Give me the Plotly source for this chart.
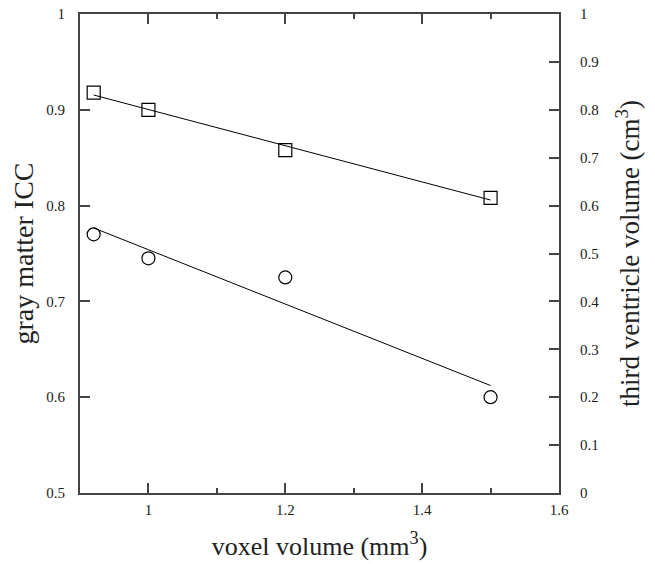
import numpy as np
import plotly.graph_objects as go

voxel_volume = [0.92, 1.0, 1.2, 1.5]
gray_matter_icc = [0.918, 0.900, 0.858, 0.808]
third_ventricle_volume = [0.54, 0.49, 0.45, 0.20]

x_ticks = [1.0, 1.2, 1.4, 1.6]
x_tick_labels = ["1", "1.2", "1.4", "1.6"]

FONT = "Liberation Serif"
AX = "#444"
TXT = "#222"

xs = np.array(voxel_volume)
p1 = np.polyfit(xs, gray_matter_icc, 1)
p2 = np.polyfit(xs, third_ventricle_volume, 1)
xl = np.array([xs.min(), xs.max()])

fig = go.Figure()
fig.add_trace(go.Scatter(x=xl, y=np.polyval(p1, xl), mode="lines",
                         line=dict(color="black", width=1), showlegend=False))
fig.add_trace(go.Scatter(x=voxel_volume, y=gray_matter_icc, mode="markers",
                         marker=dict(symbol="square-open", size=13, color="black",
                                     line=dict(width=1.2)), showlegend=False))
fig.add_trace(go.Scatter(x=xl, y=np.polyval(p2, xl), mode="lines", yaxis="y2",
                         line=dict(color="black", width=1), showlegend=False))
fig.add_trace(go.Scatter(x=voxel_volume, y=third_ventricle_volume, mode="markers", yaxis="y2",
                         marker=dict(symbol="circle-open", size=13, color="black",
                                     line=dict(width=1.2)), showlegend=False))

fig.update_layout(
    width=655, height=564,
    margin=dict(l=80, r=96, t=14, b=71),
    paper_bgcolor="white", plot_bgcolor="white",
    font=dict(family=FONT, color=TXT, size=15),
    xaxis=dict(range=[0.9, 1.6], tickvals=x_ticks, ticktext=x_tick_labels,
               ticks="inside", ticklen=10, tickwidth=1.5, tickcolor=AX,
               showline=True, linecolor=AX, linewidth=2, mirror="ticks",
               showgrid=False, zeroline=False, automargin=False,
               minor=dict(ticks="inside", ticklen=5, tickwidth=1.5, tickcolor=AX, dtick=0.1, showgrid=False),
               ticklabelstandoff=2,
               tickfont=dict(size=15, family=FONT, color=TXT),
               title=dict(text="voxel volume (mm<sup>3</sup>)", font=dict(size=26, family=FONT, color=TXT), standoff=20)),
    yaxis=dict(range=[0.5, 1.0], dtick=0.1, tick0=0.5,
               ticks="inside", ticklen=10, tickwidth=1.5, tickcolor=AX,
               showline=True, linecolor=AX, linewidth=2,
               showgrid=False, zeroline=False, automargin=False,
               ticklabelstandoff=10, ticklabeloverflow="allow",
               tickfont=dict(size=15, family=FONT, color=TXT),
               title=dict(text="gray matter ICC", font=dict(size=28, family=FONT, color=TXT), standoff=4)),
    yaxis2=dict(range=[0, 1.0], dtick=0.1, tick0=0, overlaying="y", side="right",
                ticks="inside", ticklen=10, tickwidth=1.5, tickcolor=AX,
                showline=True, linecolor=AX, linewidth=2,
                showgrid=False, zeroline=False, automargin=False,
                ticklabelstandoff=16, ticklabeloverflow="allow",
                tickfont=dict(size=15, family=FONT, color=TXT),
                title=dict(text="third ventricle volume (cm<sup>3</sup>)", font=dict(size=27, family=FONT, color=TXT), standoff=22)),
)

# remove the page's default 8px body margin so the figure fills the window exactly
fig.write_html("out.html", config={"displayModeBar": False},
               post_script="document.body.style.margin='0';")
